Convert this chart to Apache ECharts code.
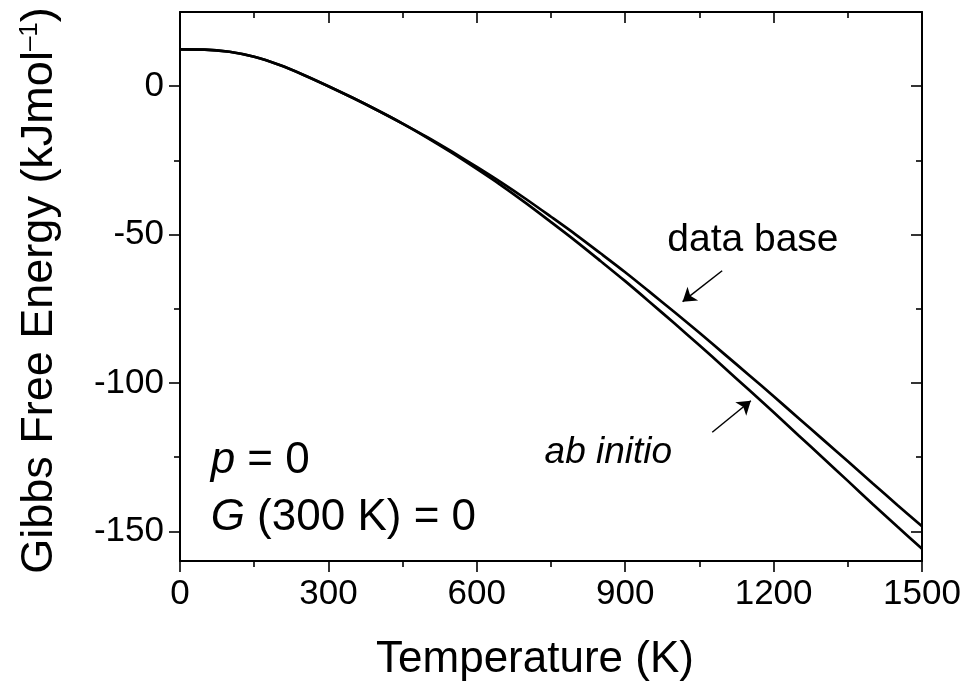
<!DOCTYPE html>
<html><head><meta charset="utf-8">
<script src="https://cdn.jsdelivr.net/npm/echarts@6/dist/echarts.min.js"></script>
<style>html,body{margin:0;padding:0;background:#fff}#c{width:974px;height:684px}</style>
</head><body><div id="c"></div>
<script>
// Temperature grid (K)
const temperatures = [0,50,100,150,200,250,300,350,400,450,500,550,600,650,700,750,800,850,900,950,1000,1050,1100,1150,1200,1250,1300,1350,1400,1450,1500];
// Gibbs free energy (kJ/mol)
const dataBase = [12.4,12.35,11.6,9.9,7.2,3.8,0.0,-4.0,-8.2,-12.6,-17.2,-22.1,-27.2,-32.5,-38.1,-44.0,-50.0,-56.3,-62.7,-69.4,-76.2,-83.1,-90.2,-97.3,-104.5,-111.8,-119.1,-126.4,-133.8,-141.1,-148.3];
const abInitio = [12.4,12.35,11.6,9.9,7.2,3.8,0.0,-4.0,-8.2,-12.6,-17.4,-22.5,-27.9,-33.5,-39.5,-45.8,-52.2,-58.9,-65.7,-72.8,-80.0,-87.3,-94.8,-102.3,-109.9,-117.6,-125.3,-133.0,-140.8,-148.4,-155.9];
const xTickValues = [0,300,600,900,1200,1500];
const yMajorTicks = [-150,-100,-50,0];
const yMinorTicks = [-125,-75,-25];
// annotation texts and anchor points (data coordinates)
const annotationTexts = ['data base','{i|ab initio}','{i|p} = 0','{i|G} (300 K) = 0'];
const annotationT = [985,737,62,62];
const annotationG = [-51.8,-123.5,-126.2,-145.3];
// arrows: start -> end (data coordinates)
const arrowStartT = [1096,1076];
const arrowStartG = [-62.2,-116.6];
const arrowEndT = [1016,1154];
const arrowEndG = [-72.6,-106.0];

const FONT = 'Liberation Sans, Arial, Helvetica, sans-serif';
const INK = '#000';
const chart = echarts.init(document.getElementById('c'), null, {renderer:'canvas'});

const axisLineStyle = {show:true, onZero:false, lineStyle:{color:INK, width:2}};
const tickStyle = {color:INK, width:1.6};
const plainNumber = v => String(v);

function yAxisDef(position, inside, ticks, len, showLine, showLabel, extra) {
  return Object.assign({
    type:'value', position:position, min:-160, max:25,
    axisLine: showLine ? axisLineStyle : {show:false, onZero:false},
    axisTick:{show:true, inside:inside, length:len, customValues:ticks, lineStyle:tickStyle},
    axisLabel: showLabel ? {show:true, customValues:ticks, fontSize:35, fontFamily:FONT, color:INK, margin:16, formatter:plainNumber} : {show:false},
    splitLine:{show:false}
  }, extra || {});
}

const option = {
  animation:false,
  backgroundColor:'#fff',
  grid:{left:180, right:52, top:12, bottom:123, outerBoundsMode:'none', containLabel:false},
  xAxis:[
    {type:'value', position:'bottom', min:0, max:1500, interval:300,
     axisLine:axisLineStyle,
     axisTick:{show:true, inside:false, length:11, lineStyle:tickStyle},
     minorTick:{show:true, splitNumber:2, length:6, lineStyle:tickStyle},
     splitLine:{show:false}, minorSplitLine:{show:false},
     axisLabel:{fontSize:35, fontFamily:FONT, color:INK, margin:16, customValues:xTickValues, formatter:plainNumber},
     name:'Temperature (K)', nameLocation:'middle', nameGap:77,
     nameTextStyle:{fontSize:44, fontFamily:FONT, color:INK, padding:[0,32,0,0]}},
    {type:'value', position:'top', min:0, max:1500, interval:300,
     axisLine:axisLineStyle,
     axisTick:{show:true, inside:true, length:11, lineStyle:tickStyle},
     minorTick:{show:true, splitNumber:2, length:6, lineStyle:tickStyle},
     splitLine:{show:false}, minorSplitLine:{show:false},
     axisLabel:{show:false}}
  ],
  yAxis:[
    yAxisDef('left', false, yMajorTicks, 11, true, true, {
      name:'Gibbs Free Energy (kJmol{sup|\u20131})', nameLocation:'middle', nameGap:118,
      nameTextStyle:{fontSize:45, fontFamily:FONT, color:INK, padding:[0,8,0,0],
        rich:{sup:{fontSize:26, fontFamily:FONT, color:INK, verticalAlign:'top', lineHeight:22, padding:[0,0,14,0]}}}
    }),
    yAxisDef('left', false, yMinorTicks, 6, false, false),
    yAxisDef('right', true, yMajorTicks, 11, true, false),
    yAxisDef('right', true, yMinorTicks, 6, false, false)
  ],
  series:[
    {name:'data base', type:'line', xAxisIndex:0, yAxisIndex:0, showSymbol:false, smooth:0.3,
     data:temperatures.map((t,i)=>[t,dataBase[i]]),
     lineStyle:{color:'#000', width:2.7},
     markLine:{silent:true, symbol:['none','arrow'], symbolSize:13,
       label:{show:false}, lineStyle:{color:'#000', width:1.5, type:'solid'},
       data:arrowStartT.map((t,i)=>[{coord:[t,arrowStartG[i]]},{coord:[arrowEndT[i],arrowEndG[i]]}])}
    },
    {name:'ab initio', type:'line', xAxisIndex:0, yAxisIndex:0, showSymbol:false, smooth:0.3,
     data:temperatures.map((t,i)=>[t,abInitio[i]]),
     lineStyle:{color:'#000', width:2.7}},
    {name:'notes', type:'scatter', xAxisIndex:0, yAxisIndex:0, symbolSize:0, silent:true,
     itemStyle:{opacity:1},
     data:annotationTexts.map((s,i)=>{
       const fs = i===0 ? 39 : (i===1 ? 37 : 44);
       return {value:[annotationT[i],annotationG[i]],
         label:{show:true, position:'right', distance:0, formatter:s, opacity:1,
           fontSize:fs, fontFamily:FONT, color:INK,
           rich:{i:{fontStyle:'italic', fontSize:fs, fontFamily:FONT, color:INK}}}};
     })
    }
  ]
};
chart.setOption(option);
</script></body></html>
